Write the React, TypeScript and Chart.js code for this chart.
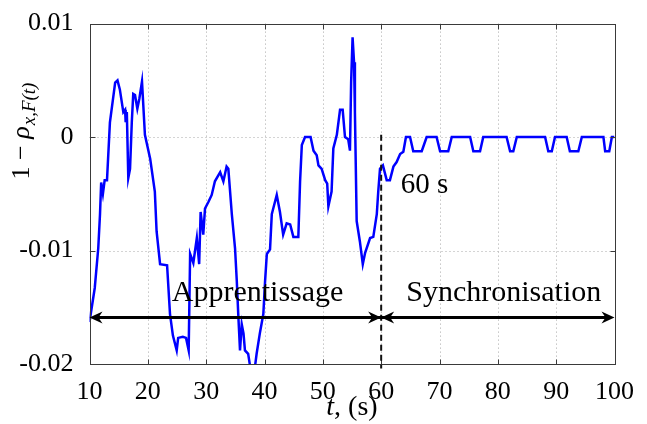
import React, { useEffect, useRef } from 'react';
import { Chart, registerables } from 'chart.js';

Chart.register(...registerables);

// time (s)
const tValues = [
  10, 10.9, 11.5, 11.8, 12.0, 12.3, 12.6, 13.0, 13.5, 14.4,
  14.8, 15.2, 15.8, 16.1, 16.2, 16.4, 16.65, 16.95, 17.25, 17.5,
  17.8, 18.2, 18.55, 19.0, 19.5, 20.4, 21.2, 21.5, 22.1, 23.3,
  23.8, 24.3, 24.95, 25.2, 26.0, 26.55, 27.0, 27.25, 27.8, 28.4,
  28.8, 29.05, 29.5, 29.8, 30.4, 30.95, 31.5, 32.4, 32.95, 33.5,
  33.8, 34.4, 34.95, 35.25, 35.5, 35.8, 36.1, 36.4, 36.65, 37.2,
  37.5, 38.4, 38.65, 39.2, 39.8, 40.1, 40.4, 40.95, 41.25, 41.5,
  42.1, 42.65, 43.2, 43.8, 44.4, 44.95, 45.8, 46.1, 46.4, 46.95,
  47.9, 48.4, 48.95, 49.25, 49.8, 50.4, 50.75, 50.95, 51.5, 51.8,
  52.4, 52.95, 53.4, 53.8, 54.35, 54.65, 54.85, 55.1, 55.35, 55.5,
  55.8, 56.35, 56.85, 57.25, 58.1, 58.65, 59.25, 59.5, 59.8, 60.3,
  60.95, 61.5, 62.1, 62.65, 63.25, 63.8, 64.25, 64.95, 65.5, 66.95,
  67.8, 69.5, 70.1, 71.5, 72.1, 75.25, 75.8, 76.95, 77.5, 81.5,
  82.1, 82.65, 83.25, 88.1, 88.65, 89.25, 89.8, 91.8, 92.35, 93.8,
  94.4, 98.1, 98.4, 99.1, 99.55, 100,
];

// 1 - rho
const yValues = [
  -0.0163, -0.0133, -0.0098, -0.0068, -0.0040, -0.0050, -0.0038, -0.0038, 0.0013, 0.0048,
  0.0050, 0.0042, 0.0022, 0.0024, 0.0013, 0.0022, -0.0036, -0.0028, 0.0013, 0.0038,
  0.0037, 0.0025, 0.0034, 0.0049, 0.0002, -0.0019, -0.0048, -0.0083, -0.0112, -0.0113,
  -0.0156, -0.0175, -0.0188, -0.0177, -0.0176, -0.0177, -0.0188, -0.0103, -0.0111, -0.0089,
  -0.0112, -0.0066, -0.0086, -0.0063, -0.0057, -0.0051, -0.0039, -0.0031, -0.0039, -0.0026,
  -0.0028, -0.0068, -0.0098, -0.0127, -0.0156, -0.0188, -0.0165, -0.0173, -0.0188, -0.0191,
  -0.0201, -0.0201, -0.0191, -0.0173, -0.0156, -0.0127, -0.0103, -0.0099, -0.0068, -0.0063,
  -0.0051, -0.0066, -0.0086, -0.0076, -0.0077, -0.0088, -0.0088, -0.0039, -0.0007, 0.0,
  0.0, -0.0012, -0.0016, -0.0025, -0.0028, -0.0038, -0.0041, -0.0061, -0.0048, -0.0010,
  0.0002, 0.0024, 0.0024, 0.0, -0.0002, -0.0012, 0.0048, 0.0088, 0.0066, 0.0022,
  -0.0074, -0.0092, -0.0112, -0.0102, -0.0089, -0.0088, -0.0068, -0.0048, -0.0028, -0.0025,
  -0.0038, -0.0038, -0.0026, -0.0022, -0.0015, -0.0013, 0, 0, -0.00125, -0.00125,
  0, 0, -0.00125, -0.00125, 0, 0, -0.00125, -0.00125, 0, 0,
  -0.00125, -0.00125, 0, 0, -0.00125, -0.00125, 0, 0, -0.00125, -0.00125,
  0, 0, -0.00125, -0.00125, 0, 0,
];

const xTicks = [10, 20, 30, 40, 50, 60, 70, 80, 90, 100];
const yTicks = [-0.02, -0.01, 0, 0.01];
const yTickLabels = ['-0.02', '-0.01', '0', '0.01'];

const splitTime = 60;
const arrowLevel = -0.0159;
const phaseLabels = ['Apprentissage', 'Synchronisation'];
const phaseLabelX = [24.1, 64.3];
const phaseLabelY = -0.01444;
const splitLabel = '60 s';
const splitLabelX = 63.35;
const splitLabelY = -0.00496;

const FONT = '"Liberation Serif", "Times New Roman", serif';

function drawArrowHead(ctx: CanvasRenderingContext2D, tipX: number, y: number, dir: number) {
  // dir = -1 head points left, +1 head points right
  const L = 13;
  const W = 6;
  ctx.beginPath();
  ctx.moveTo(tipX, y);
  ctx.lineTo(tipX - dir * L, y - W);
  ctx.lineTo(tipX - dir * (L - 4), y);
  ctx.lineTo(tipX - dir * L, y + W);
  ctx.closePath();
  ctx.fill();
}

const decorPlugin = {
  id: 'decor',
  beforeDatasetsDraw(chart: any) {
    const { ctx, chartArea: a, scales } = chart;
    const x = scales.x;
    const y = scales.y;
    ctx.save();
    ctx.strokeStyle = '#a8a8a8';
    ctx.lineWidth = 1;
    ctx.setLineDash([1, 3]);
    xTicks.slice(1, -1).forEach((v) => {
      const px = Math.round(x.getPixelForValue(v)) + 0.5;
      ctx.beginPath();
      ctx.moveTo(px, a.top);
      ctx.lineTo(px, a.bottom);
      ctx.stroke();
    });
    yTicks.slice(1, -1).forEach((v) => {
      const py = Math.round(y.getPixelForValue(v)) + 0.5;
      ctx.beginPath();
      ctx.moveTo(a.left, py);
      ctx.lineTo(a.right, py);
      ctx.stroke();
    });
    ctx.restore();
  },
  afterDatasetsDraw(chart: any) {
    const { ctx, chartArea: a, scales } = chart;
    const x = scales.x;
    const y = scales.y;
    ctx.save();

    // frame
    ctx.setLineDash([]);
    ctx.strokeStyle = '#3a3a3a';
    ctx.lineWidth = 1;
    const L = Math.round(a.left) + 0.5;
    const R = Math.round(a.right) + 0.5;
    const T = Math.round(a.top) + 0.5;
    const B = Math.round(a.bottom) + 0.5;
    ctx.strokeRect(L, T, R - L, B - T);
    // inner tick marks
    ctx.beginPath();
    xTicks.forEach((v) => {
      const px = Math.round(x.getPixelForValue(v)) + 0.5;
      ctx.moveTo(px, B);
      ctx.lineTo(px, B - 5);
      ctx.moveTo(px, T);
      ctx.lineTo(px, T + 5);
    });
    yTicks.forEach((v) => {
      const py = Math.round(y.getPixelForValue(v)) + 0.5;
      ctx.moveTo(L, py);
      ctx.lineTo(L + 5, py);
      ctx.moveTo(R, py);
      ctx.lineTo(R - 5, py);
    });
    ctx.stroke();

    // dashed split line
    const sx = x.getPixelForValue(splitTime);
    ctx.strokeStyle = '#111';
    ctx.lineWidth = 2;
    ctx.setLineDash([6, 4]);
    ctx.beginPath();
    ctx.moveTo(sx, y.getPixelForValue(0.0002));
    ctx.lineTo(sx, y.getPixelForValue(-0.0204));
    ctx.stroke();
    ctx.setLineDash([]);

    // arrows
    const ay = y.getPixelForValue(arrowLevel);
    const x0 = x.getPixelForValue(xTicks[0]);
    const x1 = x.getPixelForValue(xTicks[xTicks.length - 1]);
    ctx.strokeStyle = '#000';
    ctx.fillStyle = '#000';
    ctx.lineWidth = 3;
    ctx.beginPath();
    ctx.moveTo(x0 + 4, ay);
    ctx.lineTo(x1 - 4, ay);
    ctx.stroke();
    drawArrowHead(ctx, x0, ay, -1);
    drawArrowHead(ctx, sx, ay, 1);
    drawArrowHead(ctx, sx, ay, -1);
    drawArrowHead(ctx, x1, ay, 1);

    // phase labels
    ctx.fillStyle = '#000';
    ctx.textAlign = 'left';
    ctx.textBaseline = 'alphabetic';
    ctx.font = `30px ${FONT}`;
    phaseLabels.forEach((lab, i) => {
      ctx.fillText(lab, x.getPixelForValue(phaseLabelX[i]), y.getPixelForValue(phaseLabelY));
    });
    ctx.font = `29px ${FONT}`;
    ctx.fillText(splitLabel, x.getPixelForValue(splitLabelX), y.getPixelForValue(splitLabelY));

    // x title: t, (s)
    {
      const cx = (a.left + a.right) / 2;
      const base = 415;
      ctx.font = `italic 28px ${FONT}`;
      const w1 = ctx.measureText('t').width;
      ctx.font = `28px ${FONT}`;
      const rest = ', (s)';
      const w2 = ctx.measureText(rest).width;
      let sxp = cx - (w1 + w2) / 2;
      ctx.font = `italic 28px ${FONT}`;
      ctx.fillText('t', sxp, base);
      ctx.font = `28px ${FONT}`;
      ctx.fillText(rest, sxp + w1, base);
    }

    // y title: 1 − ρ_{x,F(t)}
    {
      const p1 = '1 \u2212 ';
      const p2 = '\u03C1';
      const p3 = 'x,F(t)';
      ctx.font = `26px ${FONT}`;
      const w1 = ctx.measureText(p1).width;
      ctx.font = `italic 26px ${FONT}`;
      const w2 = ctx.measureText(p2).width;
      ctx.font = `italic 19px ${FONT}`;
      const w3 = ctx.measureText(p3).width;
      const total = w1 + w2 + w3 + 1;
      const centerY = 131;
      ctx.translate(29, centerY + total / 2);
      ctx.rotate(-Math.PI / 2);
      ctx.font = `26px ${FONT}`;
      ctx.fillText(p1, 0, 0);
      ctx.font = `italic 26px ${FONT}`;
      ctx.fillText(p2, w1, 0);
      ctx.font = `italic 19px ${FONT}`;
      ctx.fillText(p3, w1 + w2 + 1, 6);
    }

    ctx.restore();
  },
};

export default function App() {
  const ref = useRef<HTMLCanvasElement | null>(null);

  useEffect(() => {
    if (!ref.current) return;
    const points = tValues.map((t, i) => ({ x: t, y: yValues[i] }));
    const chart = new Chart(ref.current, {
      type: 'line',
      data: {
        datasets: [
          {
            data: points,
            borderColor: '#0000ff',
            borderWidth: 2.5,
            pointRadius: 0,
            tension: 0,
            fill: false,
          },
        ],
      },
      options: {
        animation: false,
        responsive: false,
        devicePixelRatio: 1,
        layout: { padding: { left: 0, right: 32.5, top: 21, bottom: 0 } },
        plugins: { legend: { display: false }, tooltip: { enabled: false } },
        scales: {
          x: {
            type: 'linear',
            min: 10,
            max: 100,
            afterBuildTicks: (s: any) => {
              s.ticks = xTicks.map((v) => ({ value: v }));
            },
            afterFit: (s: any) => {
              s.height = 60;
            },
            grid: { display: false },
            border: { display: false },
            ticks: {
              font: { family: FONT, size: 26 },
              color: '#000',
              padding: 5,
              maxRotation: 0,
              autoSkip: false,
              callback: (v: any) => String(v),
            },
          },
          y: {
            type: 'linear',
            min: -0.02,
            max: 0.01,
            afterBuildTicks: (s: any) => {
              s.ticks = yTicks.map((v) => ({ value: v }));
            },
            afterFit: (s: any) => {
              s.width = 89.5;
            },
            grid: { display: false },
            border: { display: false },
            ticks: {
              font: { family: FONT, size: 26 },
              color: '#000',
              padding: 8,
              autoSkip: false,
              callback: (v: any) => {
                const i = yTicks.findIndex((t) => Math.abs(t - Number(v)) < 1e-9);
                return i >= 0 ? yTickLabels[i] : '';
              },
            },
          },
        },
      },
      plugins: [decorPlugin],
    } as any);
    return () => chart.destroy();
  }, []);

  return (
    <div style={{ position: 'absolute', left: 0, top: 0, width: 647, height: 424, background: '#fff' }}>
      <canvas ref={ref} width={647} height={424} style={{ display: 'block' }} />
    </div>
  );
}
